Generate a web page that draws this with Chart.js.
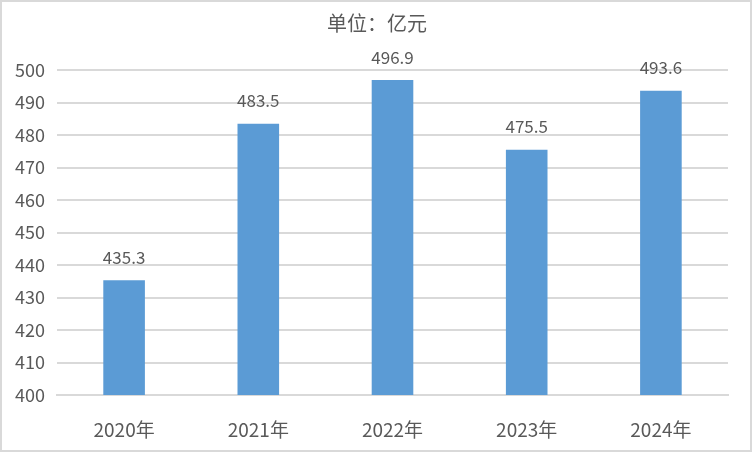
<!DOCTYPE html>
<html>
<head>
<meta charset="utf-8">
<script src="https://cdn.jsdelivr.net/npm/chart.js@4"></script>
<style>
  body { margin: 0; background: #fff; }
  #wrap { width: 752px; height: 452px; }
</style>
</head>
<body>
<div id="wrap"><canvas id="myChart" width="752" height="452"></canvas></div>
<script>
var years = ['2020年', '2021年', '2022年', '2023年', '2024年'];
var values = [435.3, 483.5, 496.9, 475.5, 493.6];
var yTicks = [400, 410, 420, 430, 440, 450, 460, 470, 480, 490, 500];
var unitTitle = '单位：亿元';

var textColor = '#595959';
var fontFamily = '"Noto Sans CJK SC", "Microsoft YaHei", sans-serif';

// border round the whole picture, and the unit title centred on it
var frame = {
    id: 'frame',
    afterDraw: function (chart) {
        var c = chart.ctx;
        c.save();
        c.strokeStyle = '#d9d9d9';
        c.lineWidth = 2;
        c.strokeRect(1, 1, chart.width - 2, chart.height - 2);
        c.fillStyle = textColor;
        c.font = '20px ' + fontFamily;
        c.textAlign = 'center';
        c.textBaseline = 'middle';
        c.fillText(unitTitle, chart.width / 2 + 1, 23);
        c.restore();
    }
};

// value labels above bars
var barLabels = {
    id: 'barLabels',
    afterDatasetsDraw: function (chart) {
        var c = chart.ctx;
        var meta = chart.getDatasetMeta(0);
        c.save();
        c.fillStyle = textColor;
        c.font = '17px ' + fontFamily;
        c.textAlign = 'center';
        c.textBaseline = 'middle';
        meta.data.forEach(function (bar, i) {
            c.fillText(values[i].toFixed(1), bar.x, bar.y - 23);
        });
        c.restore();
    }
};

var ctx = document.getElementById('myChart').getContext('2d');
var myChart = new Chart(ctx, {
    type: 'bar',
    data: {
        labels: years,
        datasets: [{
            data: values,
            backgroundColor: '#5b9bd5',
            barPercentage: 0.31,
            categoryPercentage: 1
        }]
    },
    options: {
        responsive: false,
        animation: false,
        layout: { padding: { left: 0, right: 24, top: 70, bottom: 0 } },
        plugins: {
            legend: { display: false },
            tooltip: { enabled: false },
            title: { display: false }
        },
        scales: {
            x: {
                grid: { display: false },
                border: { color: '#d9d9d9', width: 2 },
                ticks: {
                    color: textColor,
                    font: { size: 19, family: fontFamily },
                    padding: 15
                },
                afterFit: function (scale) { scale.height = 57; }
            },
            y: {
                min: 400,
                max: 500,
                afterBuildTicks: function (scale) {
                    scale.ticks = yTicks.map(function (v) { return { value: v }; });
                },
                grid: { color: '#d9d9d9', lineWidth: 2, drawTicks: false },
                border: { display: false },
                ticks: {
                    color: textColor,
                    font: { size: 18, family: fontFamily },
                    padding: 12
                },
                afterFit: function (scale) { scale.width = 57; }
            }
        }
    },
    plugins: [frame, barLabels]
});
</script>
</body>
</html>
